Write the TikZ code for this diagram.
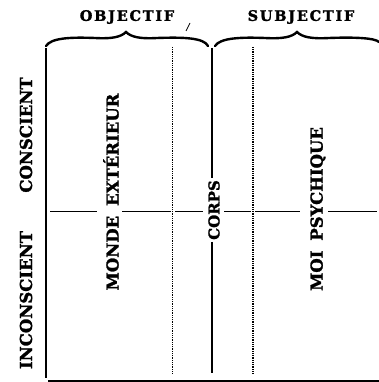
\documentclass[tikz,border=0pt]{standalone}
\usepackage{fontspec}
\setmainfont{DejaVu Serif}[BoldFeatures={FakeBold=1.5}]
\newfontfamily\spacedfont{DejaVu Serif}[LetterSpace=12,BoldFeatures={FakeBold=1.5}]

\begin{document}
\begin{tikzpicture}[x=1pt,y=-1pt,
  heavy/.style={line width=2pt},
  rule/.style={line width=1.2pt},
  dotline/.style={line width=1.1pt, dash pattern=on 0.9pt off 0.9pt},
  brace/.style={line width=2.4pt, line cap=round},
  vlabel/.style={font=\bfseries\fontsize{16.5}{18}\selectfont, inner sep=0pt, outer sep=2pt, rotate=90},
  head/.style={font=\spacedfont\bfseries\fontsize{14.5}{16}\selectfont, inner sep=0pt}]
\useasboundingbox (0,0) rectangle (379,382);

% column headings
\node[head] (obj) at (127,17) {OBJECTIF};
\node[head] (subj) at (301,17) {SUBJECTIF};
\draw[line width=0.8pt] (186,31) -- (190,23);

% braces over the two halves
\draw[brace] (46,46) .. controls (51,38) and (70,37) .. (95,38)
  .. controls (112,39) and (121,37) .. (126,32)
  .. controls (131,37) and (140,39) .. (157,38)
  .. controls (185,37) and (204,38) .. (208,46);
\draw[brace] (215,46) .. controls (220,38) and (240,37) .. (265,38)
  .. controls (283,39) and (292,37) .. (297,32)
  .. controls (302,37) and (311,39) .. (329,38)
  .. controls (355,37) and (375,38) .. (379,42);

% row labels
\node[vlabel] (consc) at (26,135) {CONSCIENT};
\node[vlabel] (incons) at (26,300) {INCONSCIENT};

% column labels
\node[vlabel] (monde) at (111,192) {MONDE\hspace{0.6em}EXTÉRIEUR};
\node[vlabel, font=\bfseries\fontsize{15}{17}\selectfont] (corps) at (214,210) {CORPS};
\node[vlabel] (moi) at (318,209) {MOI\hspace{0.6em}PSYCHIQUE};

% frame
\coordinate (ltop) at (46,48);
\coordinate (lbot) at (46,378);
\coordinate (ctop) at (211.5,48);
\coordinate (cbot) at (211.5,373);
\draw[heavy] (ltop) -- (lbot);
\draw[heavy] (ctop) -- (ctop |- corps.east);
\draw[heavy] (ctop |- corps.west) -- (cbot);
\draw[line width=1.4pt] (48,381) -- (379,381);

% dotted boundaries
\draw[dotline] (172.5,47) -- (172.5,373);
\draw[dotline] (253,47) -- (253,373);

% conscious / unconscious threshold
\draw[rule] (50,211.5) -- (97,211.5);
\draw[rule] (122,211.5) -- (171,211.5);
\draw[rule] (175,211.5) -- (203,211.5);
\draw[rule] (224,211.5) -- (251,211.5);
\draw[rule] (255,211.5) -- (300,211.5);
\draw[rule] (328,211.5) -- (377,211.5);
\end{tikzpicture}
\end{document}
